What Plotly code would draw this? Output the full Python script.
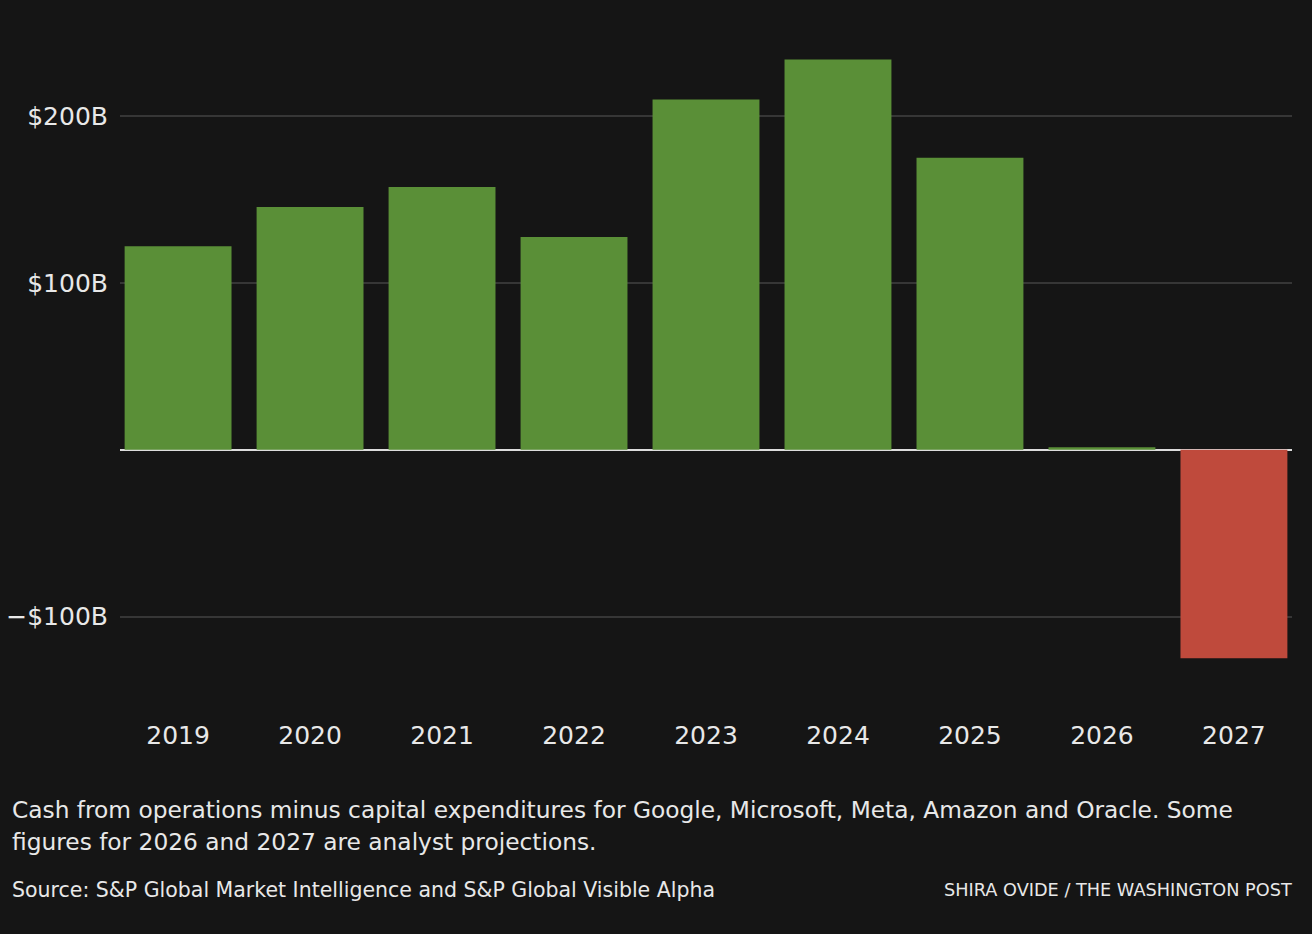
import plotly.graph_objects as go

years = ["2019", "2020", "2021", "2022", "2023", "2024", "2025", "2026", "2027"]
free_cash = [122, 145.5, 157.5, 127.5, 210, 234, 175, 1.5, -125]   # $ billions
tick_vals = [-100, 100, 200]
tick_text = ["\u2212$100B", "$100B", "$200B"]

caption_lines = ["Cash from operations minus capital expenditures for Google, Microsoft, Meta, Amazon and Oracle. Some",
                 "figures for 2026 and 2027 are analyst projections."]
source = "Source: S&P Global Market Intelligence and S&P Global Visible Alpha"
credit = "SHIRA OVIDE / THE WASHINGTON POST"

BG = "#151515"
GREEN = "#5a8f37"
RED = "#bf4a3c"
TXT = "#e8e8e8"
FONT = "DejaVu Sans"

colors = [GREEN if v >= 0 else RED for v in free_cash]

fig = go.Figure(go.Bar(x=list(range(len(years))), y=free_cash, marker=dict(color=colors, line=dict(width=0)),
                       hoverinfo="x+y"))

PH = 684  # plot height in px
fig.update_layout(
    width=1312, height=934,
    paper_bgcolor=BG, plot_bgcolor=BG,
    margin=dict(l=120, r=20, t=16, b=934 - 700),
    bargap=0.19,
    showlegend=False,
    font=dict(family=FONT, color=TXT),
    xaxis=dict(range=[-0.44, 8.44], tickvals=list(range(len(years))), ticktext=years,
               showgrid=False, zeroline=False, showline=False, ticks="", automargin=False,
               tickfont=dict(size=25, color=TXT), ticklabelstandoff=18),
    yaxis=dict(range=[-150, 260], tickvals=tick_vals, ticktext=tick_text,
               showgrid=True, gridcolor="#363636", gridwidth=2,
               zeroline=True, zerolinecolor="#dcdcdc", zerolinewidth=2, automargin=False,
               ticks="", tickfont=dict(size=25, color=TXT), ticklabelstandoff=11),
)

# caption, source and credit below the chart
for i, line in enumerate(caption_lines):
    fig.add_annotation(text=line, xref="paper", yref="paper", x=-110 / 1172, y=-(810 + 32 * i - 700) / PH,
                       xanchor="left", yanchor="middle", align="left", showarrow=False,
                       font=dict(size=23.3, color=TXT, family=FONT))
fig.add_annotation(text=source, xref="paper", yref="paper", x=-110 / 1172, y=-(890 - 700) / PH,
                   xanchor="left", yanchor="middle", align="left", showarrow=False,
                   font=dict(size=20.5, color=TXT, family=FONT))
fig.add_annotation(text=credit, xref="paper", yref="paper", x=1 + 2 / 1172, y=-(890 - 700) / PH,
                   xanchor="right", yanchor="middle", align="right", showarrow=False,
                   font=dict(size=17.7, color=TXT, family=FONT))

fig.write_html("out.html", config={"displayModeBar": False},
               post_script="document.body.style.margin='0';")
